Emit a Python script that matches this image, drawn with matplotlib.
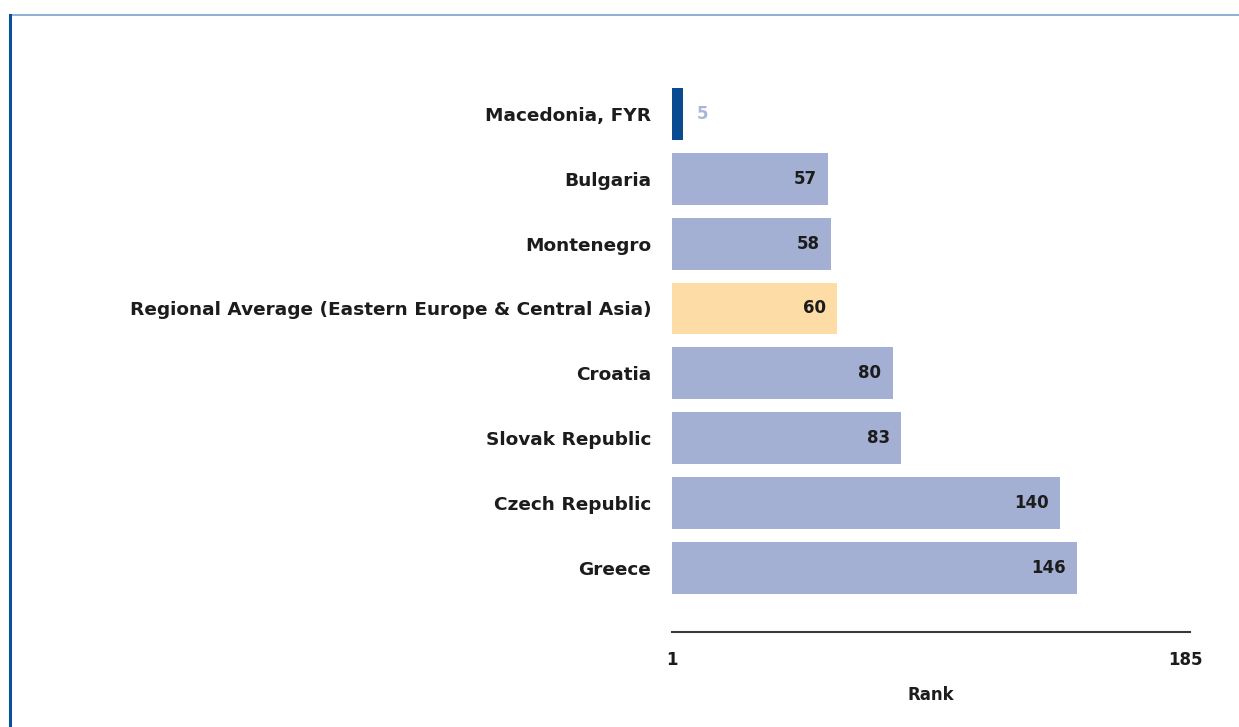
import matplotlib.pyplot as plt
import numpy as np

countries = ['Macedonia, FYR', 'Bulgaria', 'Montenegro',
             'Regional Average (Eastern Europe & Central Asia)',
             'Croatia', 'Slovak Republic', 'Czech Republic', 'Greece']
ranks = [5, 57, 58, 60, 80, 83, 140, 146]
rank_min, rank_max = 1, 185

bar_color = '#a3b0d3'
colors = [bar_color] * len(ranks)
colors[0] = '#0a4a91'      # economy of interest
colors[3] = '#fddca6'      # regional average
text_color = '#1c1c1c'

fig = plt.figure(figsize=(12.39, 7.27), dpi=100)

# thin frame lines along top and left edge
fig.add_artist(plt.Line2D([0.008, 1.0], [0.980, 0.980], color='#7aa3cc', lw=1.2))
fig.add_artist(plt.Line2D([0.008, 0.008], [0.0, 0.980], color='#0b4f9c', lw=2.2))

ax = fig.add_axes([0.5424, 0.1307, 0.4181, 0.802])
y = np.arange(len(ranks))
ax.barh(y, ranks, height=0.8, color=colors)
ax.set_xlim(rank_min, rank_max + 1.5)
ax.set_ylim(len(ranks) - 1 + 0.985, -1)

for i, v in enumerate(ranks):
    if i == 0:
        ax.text(v + 5, i, str(v), ha='left', va='center', fontsize=12,
                fontweight='bold', color='#a9b7d6')
    else:
        ax.text(v - 4, i, str(v), ha='right', va='center', fontsize=12,
                fontweight='bold', color=text_color)

ax.set_yticks(y)
ax.set_yticklabels(countries, fontsize=13.3, fontweight='bold', color=text_color)
ax.tick_params(axis='y', length=0, pad=15)

ax.set_xticks([rank_min, rank_max])
ax.set_xticklabels([str(rank_min), str(rank_max)], fontsize=12,
                   fontweight='bold', color=text_color)
ax.tick_params(axis='x', length=0, pad=14)
ax.set_xlabel('Rank', fontsize=12, fontweight='bold', color=text_color, labelpad=12)

for s in ['top', 'right', 'left']:
    ax.spines[s].set_visible(False)
ax.spines['bottom'].set_color('#3a3a3a')
ax.spines['bottom'].set_linewidth(1.5)

fig.savefig('out.png', dpi=100)
